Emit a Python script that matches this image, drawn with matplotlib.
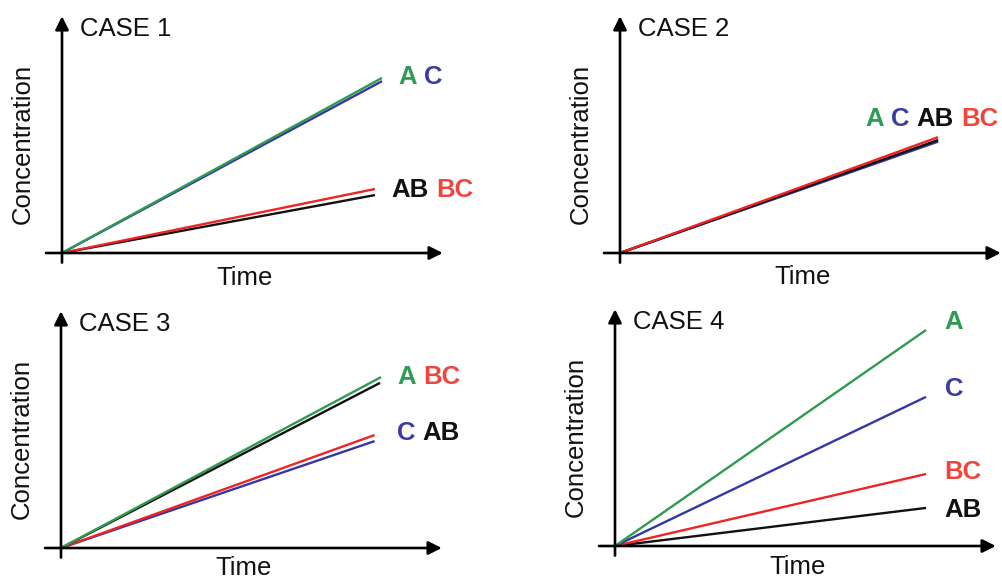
import matplotlib
matplotlib.use("Agg")
import matplotlib.pyplot as plt

# DATA ------------------------------------------------------------------------

case_titles = ["CASE 1", "CASE 2", "CASE 3", "CASE 4"]

# species drawn in each case, bottom to top
case1_species = ["AB", "BC", "C", "A"]
case1_end_time = [9.78, 9.78, 10.0, 10.0]
case1_end_conc = [1.81, 2.00, 5.37, 5.47]

case2_species = ["A", "C", "AB", "BC"]
case2_end_time = [9.94, 9.94, 9.94, 9.94]
case2_end_conc = [3.52, 3.48, 3.53, 3.62]

case3_species = ["C", "BC", "AB", "A"]
case3_end_time = [9.8, 9.8, 9.97, 10.0]
case3_end_conc = [3.34, 3.53, 5.16, 5.34]

case4_species = ["AB", "BC", "C", "A"]
case4_end_time = [9.72, 9.72, 9.72, 9.72]
case4_end_conc = [1.19, 2.25, 4.66, 6.75]

# end-of-line labels: list of (pieces, x, y)
case1_labels = [(["A", "C"], 10.5, 5.5), (["AB", "BC"], 10.3, 1.97)]
case2_labels = [(["A", "C", "AB", "BC"], 7.66, 4.2)]
case3_labels = [(["A", "BC"], 10.5, 5.34), (["C", "AB"], 10.5, 3.59)]
case4_labels = [(["A"], 10.3, 7.0), (["C"], 10.3, 4.9),
                (["BC"], 10.3, 2.31), (["AB"], 10.3, 1.13)]

line_colors = {"A": "#2f9a50", "C": "#3536a6", "BC": "#ee2424", "AB": "#111111"}
label_colors = {"A": "#2e9b55", "C": "#3a3da2", "BC": "#f0453c", "AB": "#111111"}

# LAYOUT ----------------------------------------------------------------------

W, H = 1003, 581
PX = 32.0                      # pixels per data unit
origins = [(62, 253), (620, 253), (61, 548), (615, 546)]
time_label_y = [-0.78, -0.76, -0.62, -0.66]
XMIN, XMAX, YMIN, YMAX = -2.2, 13.2, -1.5, 7.9
FONT = "Liberation Sans"
FS = 18.5

plt.rcParams['font.family'] = [FONT, 'DejaVu Sans']

fig = plt.figure(figsize=(W / 100, H / 100), dpi=100)

cases = [
    (case1_species, case1_end_time, case1_end_conc, case1_labels),
    (case2_species, case2_end_time, case2_end_conc, case2_labels),
    (case3_species, case3_end_time, case3_end_conc, case3_labels),
    (case4_species, case4_end_time, case4_end_conc, case4_labels),
]


def draw_label(ax, pieces, x, y):
    """Draw coloured words one after another on the same baseline."""
    prev = None
    for word in pieces:
        if prev is None:
            prev = ax.text(x, y, word, color=label_colors[word], fontsize=FS,
                           fontweight='bold', ha='left', va='center')
        else:
            prev = ax.annotate(word, xy=(1, 0), xycoords=prev,
                               xytext=(5.2, 0), textcoords='offset points',
                               color=label_colors[word], fontsize=FS,
                               fontweight='bold', ha='left', va='bottom')


for (ox, oy), ty, title, (species, t_end, c_end, labels) in zip(
        origins, time_label_y, case_titles, cases):
    left = (ox + XMIN * PX) / W
    bottom = 1 - (oy - YMIN * PX) / H
    width = (XMAX - XMIN) * PX / W
    height = (YMAX - YMIN) * PX / H
    ax = fig.add_axes([left, bottom, width, height])
    ax.set_xlim(XMIN, XMAX)
    ax.set_ylim(YMIN, YMAX)
    ax.axis('off')
    ax.patch.set_alpha(0)

    arrow = dict(arrowstyle='-|>', lw=1.9, color='black',
                 mutation_scale=20, shrinkA=0, shrinkB=0)
    ax.annotate('', xy=(11.9, 0), xytext=(-0.5, 0), arrowprops=arrow)
    ax.annotate('', xy=(0, 7.4), xytext=(0, -0.3), arrowprops=arrow)

    for sp, t, c in zip(species, t_end, c_end):
        ax.plot([0, t], [0, c], color=line_colors[sp], lw=1.7,
                solid_capstyle='butt', clip_on=False)

    for pieces, lx, ly in labels:
        draw_label(ax, pieces, lx, ly)

    ax.text(0.55, 7.0, title, fontsize=FS, ha='left', va='center',
            color='#111111')
    ax.text(-1.22, 3.4, "Concentration", fontsize=FS, rotation=90,
            ha='center', va='center', color='#111111')
    ax.text(5.7, ty, "Time", fontsize=FS, ha='center', va='center',
            color='#111111')

fig.savefig("out.png", dpi=100)
